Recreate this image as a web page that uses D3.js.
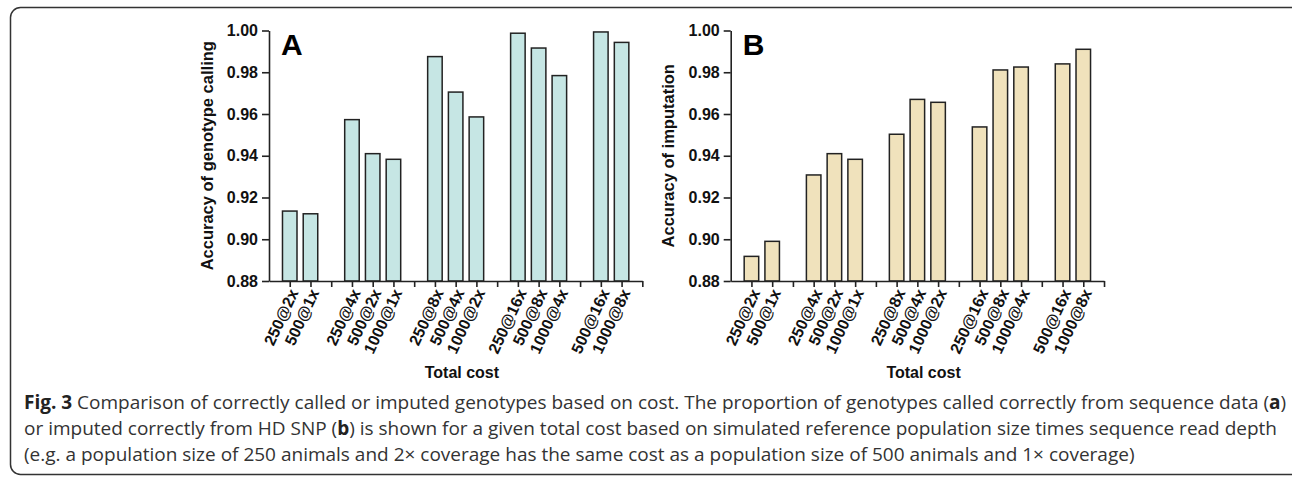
<!DOCTYPE html>
<html>
<head>
<meta charset="utf-8">
<script src="https://cdn.jsdelivr.net/npm/d3@7/dist/d3.min.js"></script>
<style>
  html, body { margin: 0; padding: 0; background: #fff; }
  svg { display: block; }
  .axis path, .axis line { stroke: #222; stroke-width: 1.6; }
  .axis text { font-family: "Liberation Sans", Arial, sans-serif; font-weight: bold; fill: #111; }
</style>
</head>
<body>
<div id="chart"></div>
<script>
// bars, in order, with the cost group each one belongs to
var categories = ["250@2x", "500@1x",
    "250@4x", "500@2x", "1000@1x",
    "250@8x", "500@4x", "1000@2x",
    "250@16x", "500@8x", "1000@4x",
    "500@16x", "1000@8x"];
var groupOf = [0, 0, 1, 1, 1, 2, 2, 2, 3, 3, 3, 4, 4];

// panel A: accuracy of genotype calling
var callingAccuracy = [0.9135, 0.9122,
    0.9573, 0.9410, 0.9383,
    0.9875, 0.9705, 0.9586,
    0.9987, 0.9916, 0.9784,
    0.9993, 0.9943];

// panel B: accuracy of imputation
var imputationAccuracy = [0.8918, 0.8990,
    0.9308, 0.9410, 0.9383,
    0.9503, 0.9670, 0.9656,
    0.9538, 0.9811, 0.9825,
    0.9840, 0.9910];

var yTicks = [0.88, 0.90, 0.92, 0.94, 0.96, 0.98, 1.00];

var width = 1292, height = 477;
var svg = d3.select("#chart").append("svg")
    .attr("width", width)
    .attr("height", height);

// figure frame
svg.append("rect")
    .attr("x", 10.5).attr("y", 7.5)
    .attr("width", 1292).attr("height", 467)
    .attr("rx", 10).attr("ry", 10)
    .attr("fill", "none")
    .attr("stroke", "#333")
    .attr("stroke-width", 1.5);

var panels = [
    {x0: 269, values: callingAccuracy, fill: "#c6e6e4", letter: "A", ylabel: "Accuracy of genotype calling", ylabelX: 213},
    {x0: 730.7, values: imputationAccuracy, fill: "#f0e2bc", letter: "B", ylabel: "Accuracy of imputation", ylabelX: 674}
];

var plotTop = 30.5, plotBottom = 281;
var nSlots = 18, pitch = 20.74;

// slot position of each bar: a gap slot between groups
var slot = categories.map(function(c, i) { return i + groupOf[i] + 1; });

panels.forEach(function(p) {
    var x = d3.scaleLinear().domain([0, nSlots]).range([p.x0, p.x0 + nSlots * pitch]);
    var y = d3.scaleLinear().domain([0.88, 1.00]).range([plotBottom, plotTop]);
    var barW = pitch * 0.7;

    var g = svg.append("g");

    g.selectAll(".bar").data(p.values).enter().append("rect")
        .attr("class", "bar")
        .attr("x", function(d, i) { return x(slot[i]) - barW / 2; })
        .attr("y", function(d) { return y(d); })
        .attr("width", barW)
        .attr("height", function(d) { return y(0.88) - y(d); })
        .attr("fill", p.fill)
        .attr("stroke", "#222")
        .attr("stroke-width", 1.5);

    // y axis
    g.append("g")
        .attr("class", "axis")
        .attr("transform", "translate(" + p.x0 + ",0)")
        .call(d3.axisLeft(y).tickValues(yTicks).tickFormat(d3.format(".2f"))
            .tickSize(7).tickSizeOuter(0).tickPadding(4))
        .selectAll("text").style("font-size", "16px");

    // x axis, a tick at every slot
    g.append("g")
        .attr("class", "axis")
        .attr("transform", "translate(0," + plotBottom + ")")
        .call(d3.axisBottom(x).tickValues(d3.range(1, nSlots + 1)).tickFormat("")
            .tickSize(6).tickSizeOuter(0));

    g.selectAll(".xlab").data(categories).enter().append("text")
        .attr("class", "xlab")
        .attr("transform", function(d, i) {
            return "translate(" + (x(slot[i]) + 4) + "," + (plotBottom + 9) + ") rotate(-65)";
        })
        .attr("text-anchor", "end")
        .attr("dy", "0.35em")
        .style("font-family", "Liberation Sans, Arial, sans-serif")
        .style("font-weight", "bold")
        .style("font-size", "16px")
        .attr("fill", "#111")
        .text(function(d) { return d; });

    g.append("text")
        .attr("x", x(9.3)).attr("y", 378)
        .attr("text-anchor", "middle")
        .style("font-family", "Liberation Sans, Arial, sans-serif")
        .style("font-weight", "bold")
        .style("font-size", "16px")
        .attr("fill", "#111")
        .text("Total cost");

    g.append("text")
        .attr("transform", "translate(" + p.ylabelX + "," + ((plotTop + plotBottom) / 2) + ") rotate(-90)")
        .attr("text-anchor", "middle")
        .style("font-family", "Liberation Sans, Arial, sans-serif")
        .style("font-weight", "bold")
        .style("font-size", "16.5px")
        .attr("fill", "#111")
        .text(p.ylabel);

    g.append("text")
        .attr("x", p.x0 + 12).attr("y", 55)
        .style("font-family", "Liberation Sans, Arial, sans-serif")
        .style("font-weight", "bold")
        .style("font-size", "30px")
        .attr("fill", "#000")
        .text(p.letter);
});

// caption
var caption = [
    [["Fig. 3", true], [" Comparison of correctly called or imputed genotypes based on cost. The proportion of genotypes called correctly from sequence data (", false], ["a", true], [")", false]],
    [["or imputed correctly from HD SNP (", false], ["b", true], [") is shown for a given total cost based on simulated reference population size times sequence read depth", false]],
    [["(e.g. a population size of 250 animals and 2\u00d7 coverage has the same cost as a population size of 500 animals and 1\u00d7 coverage)", false]]
];
var capY = [409, 435, 461];

caption.forEach(function(line, li) {
    var t = svg.append("text")
        .attr("x", 24).attr("y", capY[li])
        .style("font-family", "'Open Sans', sans-serif")
        .style("font-size", "19px")
        .attr("fill", "#333");
    line.forEach(function(part) {
        t.append("tspan")
            .style("font-weight", part[1] ? "bold" : "normal")
            .attr("fill", part[1] ? "#222" : "#333")
            .text(part[0]);
    });
});
</script>
</body>
</html>
